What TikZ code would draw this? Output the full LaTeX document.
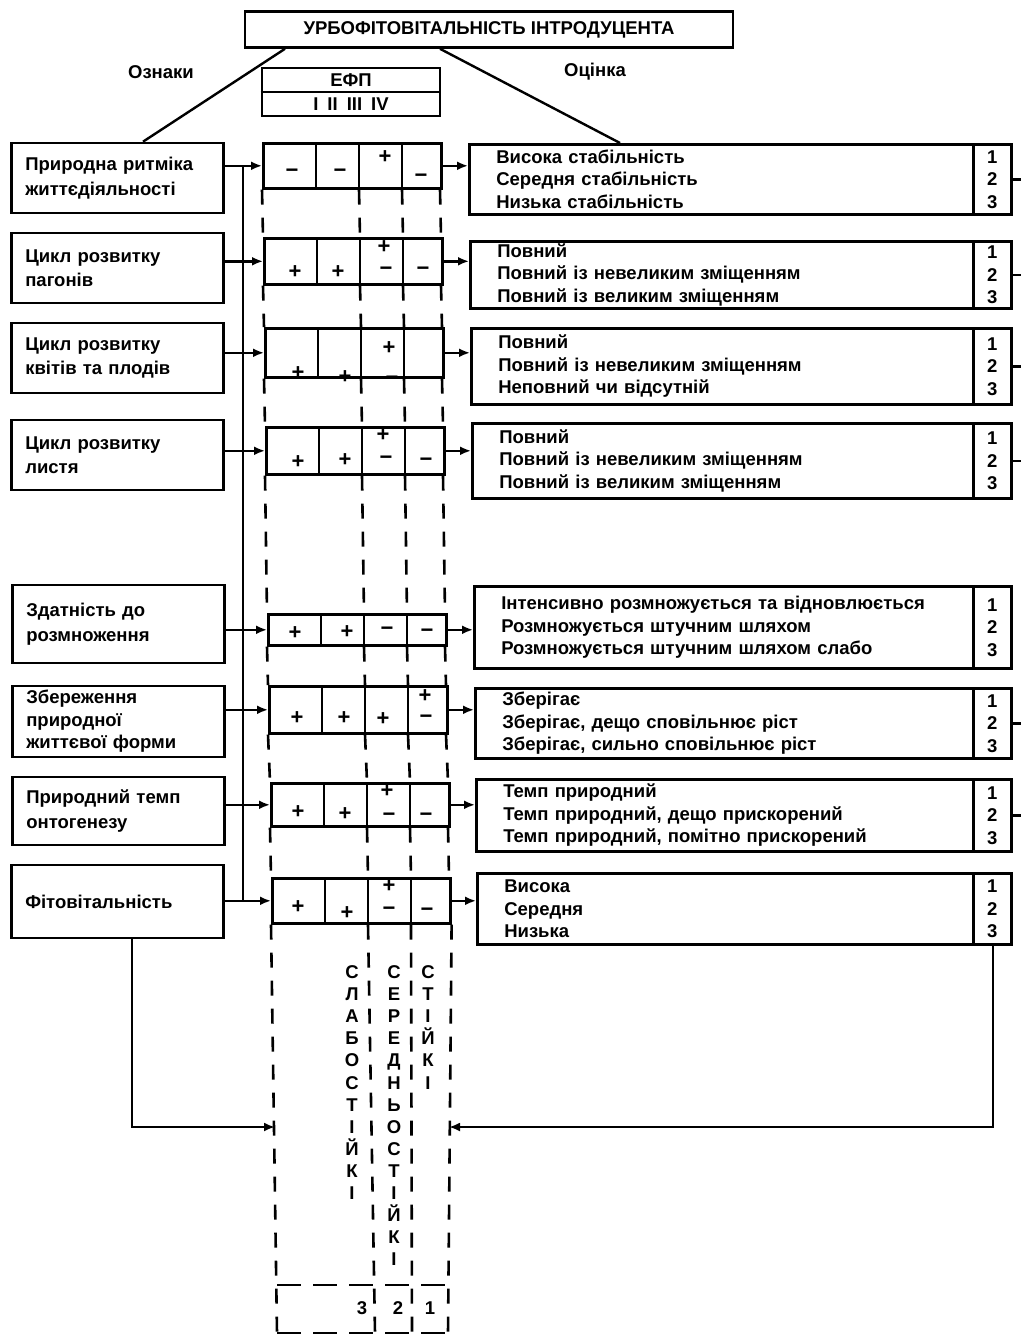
\documentclass[tikz,border=0pt]{standalone}
\usepackage{fontspec}
\setmainfont{Liberation Sans}
\usetikzlibrary{arrows.meta,calc}
\newcounter{symc}
\newcommand\sgn[3]{\stepcounter{symc}\node[sy] (sg\arabic{symc}) at (#1,#2) {#3};}
\newcommand\Pl{+}
\newcommand\Mi{\char"2212}
\newcommand\grid[4]{%
  \node[gb,minimum height={#4-#3}] (#1) at (#2,#3) {};
  \foreach \d in {54,97,140}{\draw[ln] ($(#1.north west)+(\d,0)$) -- ($(#1.south west)+(\d,0)$);}
}
\newcommand\dgap[2]{\foreach \d in {0,97,140,178}{\draw[dsh] ($(#1.south west)+(\d,0)$) -- ($(#2.north west)+(\d,0)$);}}
\newcommand\rbox[7]{% name, xL, ytop, ybot, minwidth, textwidth, text
  \node[rb,minimum width=#5pt,text width=#6pt,minimum height={#4-#3}] (R#1) at (#2,#3) {#7};
  \node[nb,minimum height={#4-#3}] (N#1) at (972,#3) {1\\2\\3};
}
\begin{document}
\begin{tikzpicture}[x=1pt,y=-1pt,
  tx/.style={font=\fontsize{18.5}{22.5}\selectfont\bfseries},
  bx/.style={draw,line width=2.6pt,inner sep=0pt},
  lb/.style={bx,font=\fontsize{18.5}{24.5}\selectfont\bfseries,minimum width=212pt,text width=184pt,align=left,inner xsep=14pt,anchor=west},
  rb/.style={bx,tx,anchor=north west,align=left,inner xsep=27pt},
  nb/.style={bx,tx,anchor=north west,minimum width=38pt,align=center},
  gb/.style={bx,anchor=north west,minimum width=178pt},
  ln/.style={line width=2.4pt},
  arr/.style={line width=2.4pt,-{Latex[length=11pt,width=9pt]}},
  dsh/.style={line width=2.6pt,dash pattern=on 15pt off 13pt},
  sy/.style={inner sep=0pt,font=\fontsize{22}{22}\selectfont\bfseries},
  vl/.style={tx,inner sep=0pt,anchor=base},
]
\useasboundingbox[fill=white] (0,0) rectangle (1021,1335);

% title
\node[bx,tx,minimum width=488pt,minimum height=36pt] (T) at (489,29.5) {УРБОФІТОВІТАЛЬНІСТЬ ІНТРОДУЦЕНТА};
\node[tx] (oz) at (161,72) {Ознаки};
\node[tx] (oc) at (595,72) {Оцінка};
\node[bx,minimum width=178pt,minimum height=48pt] (E) at (351,92) {};
\draw[ln] (E.west) -- (E.east);
\node[tx] (E1) at (351,80) {ЕФП};
\node[tx] (E2) at (351,104) {I\hspace{9pt}II\hspace{9pt}III\hspace{9pt}IV};

% left boxes
\node[lb,minimum height=70pt] (L1) at (10,178) {Природна ритміка\\життєдіяльності};
\node[lb,minimum height=70pt] (L2) at (10,268) {Цикл розвитку\\пагонів};
\node[lb,minimum height=70pt] (L3) at (10,358) {Цикл розвитку\\квітів та плодів};
\node[lb,minimum height=70pt] (L4) at (10,455) {Цикл розвитку\\листя};
\node[lb,minimum height=78pt] (L5) at (11,624) {Здатність до\\розмноження};
\node[lb,minimum height=71pt,font=\fontsize{18.5}{22.5}\selectfont\bfseries] (L6) at (11,721.5) {Збереження\\природної\\життєвої форми};
\node[lb,minimum height=68pt] (L7) at (11,811) {Природний темп\\онтогенезу};
\node[lb,minimum height=73pt] (L8) at (10,901.5) {Фітовітальність};

% title connectors
\coordinate (tL) at (285,47);
\coordinate (bL) at (143,143);
\coordinate (tR) at (440,47);
\coordinate (bR) at (620,143);
\draw[ln] (T.south -| tL) -- (L1.north -| bL);

% grids
\grid{G1}{262}{142}{187}
\grid{G2}{263}{237}{283}
\grid{G3}{264}{327}{376}
\grid{G4}{265}{426}{473}
\grid{G5}{267}{613}{644}
\grid{G6}{268}{685}{732}
\grid{G7}{270}{782}{825}
\grid{G8}{271}{877}{922}
\dgap{G1}{G2}\dgap{G2}{G3}\dgap{G3}{G4}\dgap{G4}{G5}
\dgap{G5}{G6}\dgap{G6}{G7}\dgap{G7}{G8}

% signs
\sgn{292}{173}{\Mi}\sgn{340}{173}{\Mi}\sgn{385}{157}{\Pl}\sgn{421}{178}{\Mi}
\sgn{295}{272}{\Pl}\sgn{338}{272}{\Pl}\sgn{384}{247}{\Pl}\sgn{386}{271}{\Mi}\sgn{423}{271}{\Mi}
\sgn{298}{373}{\Pl}\sgn{345}{377}{\Pl}\sgn{389}{348}{\Pl}\sgn{392}{380}{\Mi}
\sgn{298}{462}{\Pl}\sgn{345}{460}{\Pl}\sgn{383}{435}{\Pl}\sgn{386}{460}{\Mi}\sgn{426}{462}{\Mi}
\sgn{295}{633}{\Pl}\sgn{347}{632}{\Pl}\sgn{387}{631}{\Mi}\sgn{427}{633}{\Mi}
\sgn{297}{718}{\Pl}\sgn{344}{718}{\Pl}\sgn{383}{719}{\Pl}\sgn{425}{696}{\Pl}\sgn{426}{719}{\Mi}
\sgn{298}{812}{\Pl}\sgn{345}{814}{\Pl}\sgn{387}{791}{\Pl}\sgn{389}{817}{\Mi}\sgn{426}{817}{\Mi}
\sgn{298}{907}{\Pl}\sgn{347}{913}{\Pl}\sgn{389}{886}{\Pl}\sgn{389}{911}{\Mi}\sgn{427}{912}{\Mi}

% right boxes
\rbox{1}{468}{143}{213}{504}{450}{Висока стабільність\\Середня стабільність\\Низька стабільність}
\rbox{2}{469}{240}{307}{503}{449}{Повний\\Повний із невеликим зміщенням\\Повний із великим зміщенням}
\rbox{3}{470}{327}{403}{502}{448}{Повний\\Повний із невеликим зміщенням\\Неповний чи відсутній}
\rbox{4}{471}{422}{497}{501}{447}{Повний\\Повний із невеликим зміщенням\\Повний із великим зміщенням}
\rbox{5}{473}{585}{667}{499}{445}{Інтенсивно розмножується та відновлюється\\Розмножується штучним шляхом\\Розмножується штучним шляхом слабо}
\rbox{6}{474}{687}{757}{498}{444}{Зберігає\\Зберігає, дещо сповільнює ріст\\Зберігає, сильно сповільнює ріст}
\rbox{7}{475}{778}{850}{497}{443}{Темп природний\\Темп природний, дещо прискорений\\Темп природний, помітно прискорений}
\rbox{8}{476}{872}{943}{496}{442}{Висока\\Середня\\Низька}

\draw[ln] (T.south -| tR) -- (R1.north -| bR);

% right-edge ticks
\coordinate (edge) at (1021,0);
\foreach \k in {1,2,3,4,6,7}{\draw[ln] (N\k.east) -- (N\k.east -| edge);}

% bus and connectors
\coordinate (bus) at (243,0);
\draw[ln] (bus |- G1.west) -- (bus |- G8.west);
\foreach \k in {1,...,8}{
  \draw[arr] (L\k.east |- G\k.west) -- (G\k.west);
  \draw[arr] (G\k.east) -- (R\k.west |- G\k.east);
}

% lower dashed columns
\coordinate (b0) at (277,1333);
\coordinate (b1) at (375,1333);
\coordinate (b2) at (412,1333);
\coordinate (b3) at (448,1333);
\draw[dsh] (G8.south west) -- (b0);
\draw[dsh] ($(G8.south west)+(97,0)$) -- (b1);
\draw[dsh] ($(G8.south west)+(140,0)$) -- (b2);
\draw[dsh] (G8.south east) -- (b3);
\coordinate (h0) at (277,1285);
\coordinate (h1) at (448,1285);
\draw[dsh,dash pattern=on 24pt off 12pt] (h0) -- (h1);
\draw[dsh,dash pattern=on 24pt off 12pt] (b0) -- (b3);
\node[tx] (n3) at (362,1308) {3};
\node[tx] (n2) at (398,1308) {2};
\node[tx] (n1) at (430,1308) {1};

% vertical labels
\foreach \c [count=\i] in {С,Л,А,Б,О,С,Т,І,Й,К,І}
  \node[vl] (ca\i) at (352,{978.5+22.1*(\i-1)}) {\c};
\foreach \c [count=\i] in {С,Е,Р,Е,Д,Н,Ь,О,С,Т,І,Й,К,І}
  \node[vl] (cb\i) at (394,{978.5+22.1*(\i-1)}) {\c};
\foreach \c [count=\i] in {С,Т,І,Й,К,І}
  \node[vl] (cc\i) at (428,{978.5+22.1*(\i-1)}) {\c};

% feedback arrows
\coordinate (fl) at (132,1127);
\coordinate (fr) at (993,1127);
\coordinate (al) at (275,1127);
\coordinate (ar) at (449,1127);
\draw[arr] (L8.south -| fl) -- (fl) -- (al);
\draw[arr] (N8.south -| fr) -- (fr) -- (ar);
\end{tikzpicture}
\end{document}
